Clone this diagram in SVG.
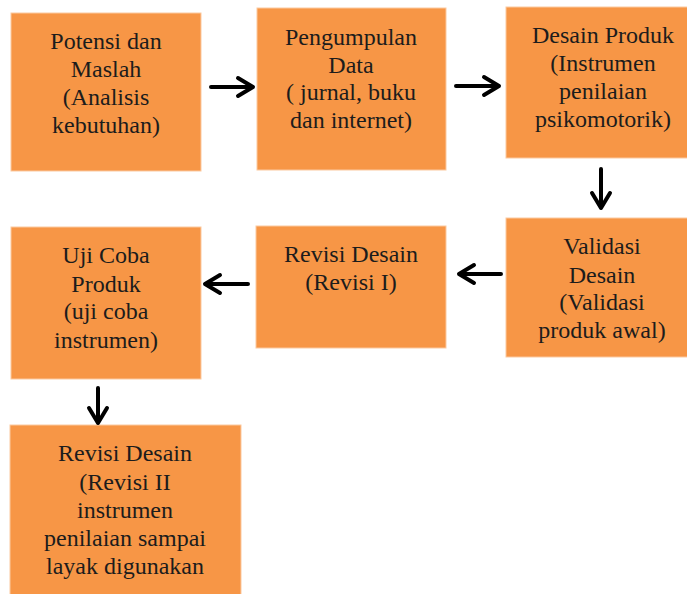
<svg xmlns="http://www.w3.org/2000/svg" width="687" height="594" viewBox="0 0 687 594">
<style>
.box{fill:#F79646;stroke:#FBC9A0;stroke-width:1}
.arr{fill:none;stroke:#000;stroke-width:4;stroke-linecap:round;stroke-linejoin:round;filter:url(#soft)}
</style>
<defs>
<filter id="soft" x="-20%" y="-20%" width="140%" height="140%">
<feGaussianBlur stdDeviation="0.6"/>
</filter>
</defs>
<rect width="687" height="594" fill="#fff"/>
<g font-family="Liberation Serif, DejaVu Serif, serif" font-size="24" fill="#1c1c1c" text-anchor="middle">
<g id="n1"><rect class="box" x="11" y="13" width="190" height="158"/>
<text x="106" y="49">Potensi dan</text><text x="106" y="77">Maslah</text><text x="106" y="105">(Analisis</text><text x="106" y="133">kebutuhan)</text></g>
<g id="n2"><rect class="box" x="257" y="8" width="189" height="162"/>
<text x="351" y="45">Pengumpulan</text><text x="351" y="73">Data</text><text x="351" y="100">( jurnal, buku</text><text x="351" y="128">dan internet)</text></g>
<g id="n3"><rect class="box" x="506" y="7" width="192" height="151"/>
<text x="603" y="43">Desain Produk</text><text x="603" y="71">(Instrumen</text><text x="603" y="99">penilaian</text><text x="603" y="127">psikomotorik)</text></g>
<g id="n4"><rect class="box" x="506" y="218" width="192" height="139"/>
<text x="602" y="254">Validasi</text><text x="602" y="283">Desain</text><text x="602" y="310">(Validasi</text><text x="602" y="338">produk awal)</text></g>
<g id="n5"><rect class="box" x="256" y="226" width="190" height="122"/>
<text x="351" y="262">Revisi Desain</text><text x="351" y="290">(Revisi I)</text></g>
<g id="n6"><rect class="box" x="11" y="227" width="190" height="152"/>
<text x="106" y="263">Uji Coba</text><text x="106" y="292">Produk</text><text x="106" y="319">(uji coba</text><text x="106" y="348">instrumen)</text></g>
<g id="n7"><rect class="box" x="10" y="425" width="231" height="175"/>
<text x="125" y="461">Revisi Desain</text><text x="125" y="490">(Revisi II</text><text x="125" y="518">instrumen</text><text x="125" y="546">penilaian sampai</text><text x="125" y="574">layak digunakan</text></g>
</g>
<g id="connectors">
<path class="arr" d="M211 87 H253 M238 78 L253 87 L238 96"/>
<path class="arr" d="M456 86 H499 M484 77 L499 86 L484 95"/>
<path class="arr" d="M601 169 V208 M592 193 L601 208 L610 193"/>
<path class="arr" d="M501 274 H459 M474 265 L459 274 L474 283"/>
<path class="arr" d="M248 284 H205 M220 275 L205 284 L220 293"/>
<path class="arr" d="M98 388 V423 M89 408 L98 423 L107 408"/>
</g>
</svg>
